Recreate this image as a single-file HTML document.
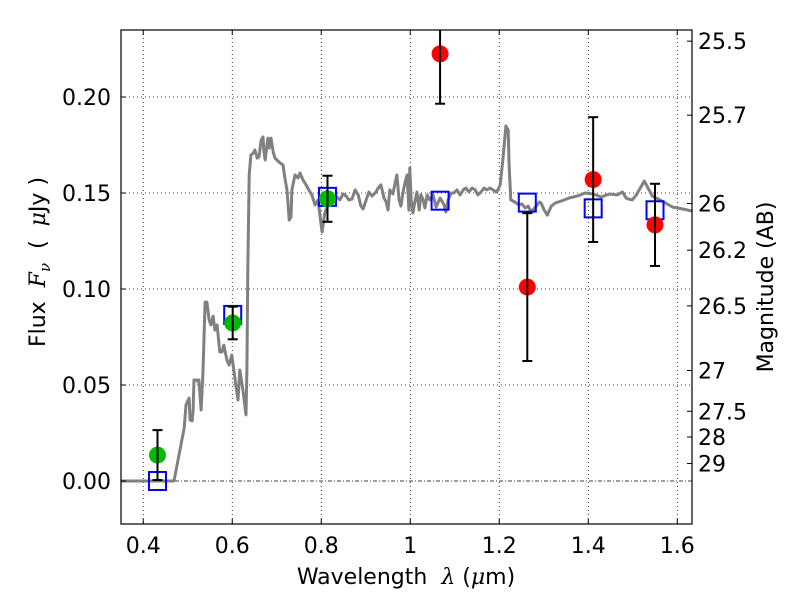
<!DOCTYPE html>
<html><head><meta charset="utf-8"><style>
body{margin:0;background:#fff}
svg{display:block;font-family:"DejaVu Sans","Liberation Sans",sans-serif}
.pre{white-space:pre}
</style></head><body>
<svg id="chart" width="800" height="600"></svg>
<script>
const specLam=[0.350,0.469,0.492,0.496,0.503,0.505,0.510,0.512,0.514,0.521,0.523,0.525,0.530,0.534,0.539,0.543,0.548,0.552,0.557,0.561,0.566,0.572,0.577,0.581,0.588,0.593,0.599,0.608,0.613,0.617,0.624,0.631,0.633,0.635,0.638,0.642,0.647,0.651,0.656,0.660,0.665,0.669,0.671,0.674,0.678,0.680,0.683,0.685,0.687,0.692,0.696,0.705,0.714,0.719,0.723,0.728,0.732,0.734,0.741,0.748,0.752,0.759,0.766,0.772,0.779,0.786,0.793,0.797,0.802,0.808,0.815,0.822,0.829,0.835,0.842,0.849,0.856,0.862,0.869,0.876,0.883,0.889,0.894,0.901,0.907,0.914,0.923,0.928,0.934,0.941,0.946,0.950,0.954,0.961,0.966,0.970,0.975,0.979,0.984,0.988,0.993,0.997,0.999,1.002,1.006,1.011,1.015,1.020,1.024,1.029,1.033,1.038,1.044,1.051,1.058,1.067,1.076,1.080,1.085,1.092,1.098,1.105,1.112,1.119,1.125,1.132,1.139,1.146,1.152,1.159,1.166,1.172,1.179,1.186,1.193,1.197,1.202,1.208,1.215,1.220,1.222,1.226,1.235,1.244,1.251,1.258,1.265,1.272,1.285,1.290,1.294,1.301,1.308,1.317,1.326,1.339,1.357,1.375,1.393,1.411,1.429,1.447,1.465,1.477,1.481,1.485,1.490,1.499,1.508,1.526,1.544,1.566,1.589,1.611,1.634];
const specFlux=[0,0,.0276,.0396,.0432,.0318,.0313,.037,.0526,.0526,.0516,.0526,.0370,.0557,.0932,.0932,.0839,.0813,.0859,.0786,.0813,.0672,.0672,.0708,.0630,.0604,.0656,.0500,.0422,.0578,.0474,.0344,.0578,.1099,.1594,.1698,.1708,.1724,.1682,.1688,.1776,.1792,.1714,.1672,.1750,.1786,.1734,.1766,.1786,.1714,.1682,.1661,.1646,.1568,.1516,.1359,.1375,.1516,.1594,.1578,.1604,.1568,.1542,.1516,.1490,.1438,.1464,.1385,.1297,.1396,.1438,.1464,.1458,.1479,.1464,.1495,.1484,.1464,.1469,.1516,.1490,.1432,.1417,.1464,.1505,.1484,.1505,.1526,.1542,.1474,.1453,.1411,.1516,.1495,.1552,.1594,.1464,.1432,.1505,.1552,.1594,.1411,.1630,.1464,.1396,.1464,.1505,.1411,.1490,.1464,.1422,.1490,.1464,.1490,.1427,.1474,.1438,.1401,.1464,.1500,.1500,.1516,.1490,.1516,.1526,.1505,.1526,.1516,.1490,.1505,.1526,.1516,.1526,.1516,.1505,.1516,.1542,.1670,.1849,.1828,.1646,.1464,.1453,.1438,.1443,.1422,.1432,.1401,.1438,.1453,.1448,.1411,.1385,.1432,.1448,.1458,.1474,.1484,.1500,.1495,.1479,.1495,.1490,.1505,.1490,.1474,.1469,.1464,.1490,.1562,.1484,.1458,.1427,.1417,.1406,.1427,.1432,.1432,.1432];
const modelLam=[0.432,0.601,0.814,1.067,1.263,1.411,1.550];
const modelFlux=[0.000,0.0865,0.148,0.146,0.145,0.142,0.141];
const detLam=[0.432,0.601,0.814];
const detFlux=[0.0135,0.0823,0.147];
const detErr=[0.0130,0.0085,0.0120];
const ulLam=[1.067,1.263,1.411,1.550];
const ulFlux=[0.2225,0.1010,0.1570,0.1334];
const ulErr=[0.0260,0.0385,0.0325,0.0214];
const xTicks=[0.4,0.6,0.8,1.0,1.2,1.4,1.6];
const xTickLabels=["0.4","0.6","0.8","1","1.2","1.4","1.6"];
const yTicks=[0,0.05,0.10,0.15,0.20];
const yTickLabels=["0.00","0.05","0.10","0.15","0.20"];
const magTicks=[25.5,25.7,26,26.2,26.5,27,27.5,28,29];
const magTickLabels=["25.5","25.7","26","26.2","26.5","27","27.5","28","29"];

const L=121,R=692,T=30,B=524;
const xmin=0.35,xmax=1.6331,ymin=-0.0224,ymax=0.2349;
const X=v=>L+(v-xmin)/(xmax-xmin)*(R-L);
const Y=v=>B-(v-ymin)/(ymax-ymin)*(B-T);
const svg=document.getElementById('chart');
const NS='http://www.w3.org/2000/svg';
function mk(tag,attrs,parent){const e=document.createElementNS(NS,tag);for(const k in attrs)e.setAttribute(k,attrs[k]);(parent||svg).appendChild(e);return e;}

const clip=mk('clipPath',{id:'pc'});mk('rect',{x:L,y:T,width:R-L,height:B-T},clip);
const grid=mk('g',{});


xTicks.forEach(v=>{mk('line',{x1:X(v),x2:X(v),y1:T,y2:B,stroke:'#000','stroke-width':0.8,'stroke-dasharray':'1,3'},grid);});
yTicks.forEach(v=>{if(v!==0)mk('line',{x1:L,x2:R,y1:Y(v),y2:Y(v),stroke:'#000','stroke-width':0.8,'stroke-dasharray':'1,3'},grid);});
const zl=mk('line',{x1:L,x2:R,y1:Y(0),y2:Y(0),stroke:'#000','stroke-width':0.8,'stroke-dasharray':'4,2,1,2'});



const pg=mk('g',{'clip-path':'url(#pc)'});
let d='';specLam.forEach((l,i)=>{d+=(i?'L':'M')+X(l).toFixed(1)+','+Y(specFlux[i]).toFixed(1);});
const sp=mk('path',{d:d,fill:'none',stroke:'#808080','stroke-width':3,'stroke-linejoin':'round'},pg);



modelLam.forEach((l,i)=>{const r=mk('rect',{x:X(l)-8.5,y:Y(modelFlux[i])-9,width:17,height:18,fill:'none',stroke:'#0000ff','stroke-width':2},pg);

});

function pts(lams,fl,er,col,nm){lams.forEach((l,i)=>{const x=X(l);const g=mk('g',{},pg);


mk('circle',{cx:x,cy:Y(fl[i]),r:8.5,fill:col},g);
const y1=Y(fl[i]+er[i]),y2=Y(fl[i]-er[i]);
mk('line',{x1:x,x2:x,y1:y1,y2:y2,stroke:'#000','stroke-width':2},g);
mk('line',{x1:x-5,x2:x+5,y1:y1,y2:y1,stroke:'#000','stroke-width':2},g);
mk('line',{x1:x-5,x2:x+5,y1:y2,y2:y2,stroke:'#000','stroke-width':2},g);});}
pts(detLam,detFlux,detErr,'#00bb00','detection-point');
pts(ulLam,ulFlux,ulErr,'#ff0000','nir-point');

const fr=mk('rect',{x:L,y:T,width:R-L,height:B-T,fill:'none',stroke:'#000','stroke-width':1.2});



xTicks.forEach((v,i)=>{const x=X(v);mk('line',{x1:x,x2:x,y1:B,y2:B-5,stroke:'#000'});mk('line',{x1:x,x2:x,y1:T,y2:T+5,stroke:'#000'});
const t=mk('text',{x:x,y:B+29,'text-anchor':'middle','font-size':22});t.textContent=xTickLabels[i];

});
yTicks.forEach((v,i)=>{const y=Y(v);mk('line',{x1:L,x2:L+5,y1:y,y2:y,stroke:'#000'});
const t=mk('text',{x:L-10,y:y+8,'text-anchor':'end','font-size':22});t.textContent=yTickLabels[i];

});
magTicks.forEach((m,i)=>{const f=Math.pow(10,(23.9-m)/2.5);const y=Y(f);mk('line',{x1:R-5,x2:R,y1:y,y2:y,stroke:'#000'});
const t=mk('text',{x:R+6,y:y+8,'font-size':22});t.textContent=magTickLabels[i];

});

const xl=mk('text',{x:406,y:584,'text-anchor':'middle','font-size':22,'class':'pre'});
xl.innerHTML='Wavelength  <tspan font-family="DejaVu Serif" font-style="italic">λ</tspan> (<tspan font-family="DejaVu Serif" font-style="italic">μ</tspan>m)';


const yl=mk('text',{x:0,y:0,'text-anchor':'middle','font-size':22,'class':'pre',transform:'translate(45,262) rotate(-90)'});
yl.innerHTML='Flux  <tspan font-family="DejaVu Serif" font-style="italic">F</tspan><tspan font-family="DejaVu Serif" font-style="italic" font-size="15" dy="5">ν</tspan><tspan dy="-5">  (  </tspan><tspan font-family="DejaVu Serif" font-style="italic">μ</tspan>Jy )';


const ml=mk('text',{x:0,y:0,'text-anchor':'middle','font-size':22,transform:'translate(773,287) rotate(-90)'});
ml.textContent='Magnitude (AB)';


</script>
</body></html>
